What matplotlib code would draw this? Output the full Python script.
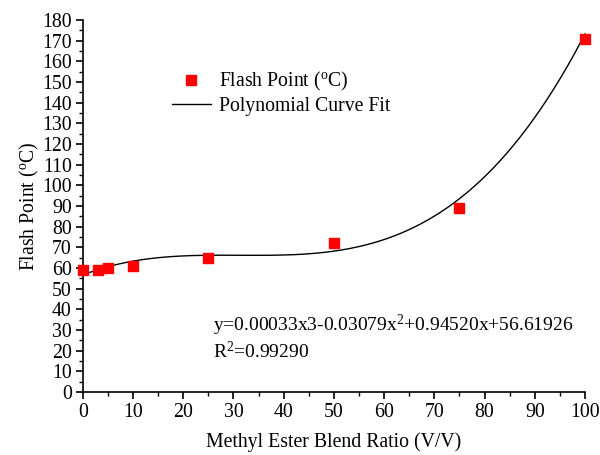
import numpy as np
import matplotlib
matplotlib.use('Agg')
import matplotlib.pyplot as plt
from matplotlib.ticker import MultipleLocator

plt.rcParams['font.family'] = 'Liberation Serif'
plt.rcParams['mathtext.fontset'] = 'custom'
plt.rcParams['mathtext.rm'] = 'Liberation Serif'
plt.rcParams['mathtext.it'] = 'Liberation Serif'

# data
blend_ratio = [0, 3, 5, 10, 25, 50, 75, 100]
flash_point = [59, 59, 60, 61, 65, 72, 89, 171]

# fit coefficients as printed on the chart (x^3, x^2, x, 1)
fit_coeffs = [0.00033, -0.03079, 0.94520, 56.61926]
fit_text = 'y=0.00033x3-0.03079x$\\mathregular{^2}$+0.94520x+56.61926'
r2_text = 'R$\\mathregular{^2}$=0.99290'

fig = plt.figure(figsize=(6, 4.55), dpi=100)
ax = fig.add_axes([0.138, 0.1385, 0.837, 0.8175])

xs = np.linspace(0, 100, 300)
p1, = ax.plot(blend_ratio, flash_point, 's', color='#ff0000', markersize=7.5,
              label='Flash Point ($\\mathregular{^o}$C)', zorder=3)
p2, = ax.plot(xs, np.polyval(fit_coeffs, xs), color='black', lw=1,
              label='Polynomial Curve Fit')

ax.set_xlim(0, 100)
ax.set_ylim(0, 180)
ax.xaxis.set_major_locator(MultipleLocator(10))
ax.xaxis.set_minor_locator(MultipleLocator(5))
ax.yaxis.set_major_locator(MultipleLocator(10))
ax.yaxis.set_minor_locator(MultipleLocator(5))
ax.tick_params(which='major', direction='out', length=5, width=1.2, labelsize=14.3, pad=3)
ax.tick_params(which='minor', direction='out', length=3, width=1)
ax.spines['top'].set_visible(False)
ax.spines['right'].set_visible(False)
ax.spines['left'].set_linewidth(1.2)
ax.spines['bottom'].set_linewidth(1.2)
for ln in ax.lines:
    ln.set_clip_on(False)

ax.set_xlabel('Methyl Ester Blend Ratio (V/V)', fontsize=14.2, labelpad=7)
ax.set_ylabel('Flash Point ($\\mathregular{^o}$C)', fontsize=14.2, labelpad=1)

ax.legend(handles=[p1, p2], loc='upper left', bbox_to_anchor=(0.177, 0.865),
          frameon=False, fontsize=14.2, handlelength=2.0, handletextpad=0.4,
          labelspacing=0.2, numpoints=1, borderaxespad=0, borderpad=0)

ax.text(0.26, 0.165, fit_text, transform=ax.transAxes, fontsize=14)
ax.text(0.26, 0.09, r2_text, transform=ax.transAxes, fontsize=14)

fig.savefig('out.png', dpi=100)
